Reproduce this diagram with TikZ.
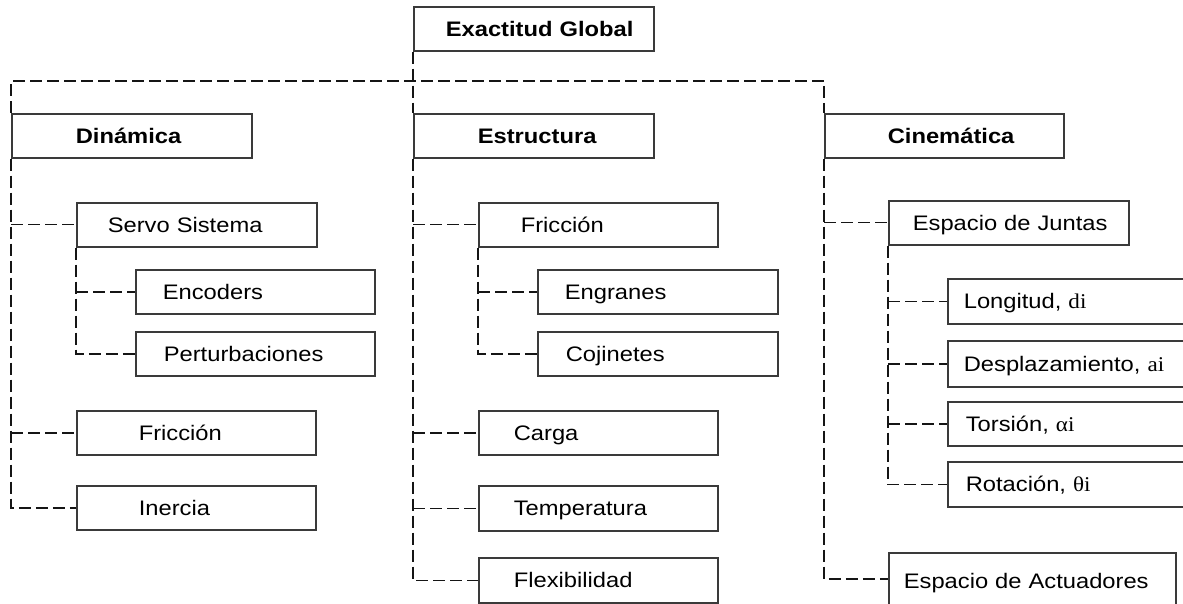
\documentclass[tikz,border=0pt]{standalone}
\usepackage{fontspec}
\setmainfont{Liberation Sans}[FakeStretch=1.13]
\newfontfamily\symfam{Liberation Serif}[FakeStretch=1.1]
\definecolor{boxline}{HTML}{3A3A3A}
\definecolor{linkgray}{HTML}{151515}
\tikzset{
  box/.style={draw=boxline, line width=1.6pt, anchor=north west,
    minimum height=44pt, inner xsep=0pt, text width=240pt,
    text height=18pt, text depth=3pt, align=left,
    font=\fontsize{21}{24}\selectfont},
  head/.style={box, font=\fontsize{21}{24}\selectfont\bfseries},
  pad/.style={execute at begin node={\noindent\hspace*{#1}}},
  link/.style={draw=linkgray, line width=1.4pt, dash pattern=on 12pt off 5pt},
}
\begin{document}
\begin{tikzpicture}[x=1pt, y=-1pt]
\useasboundingbox (0,0) rectangle (1183,604);
\clip (0,0) rectangle (1183,604);

% top level and the three branches
\node[head, pad=32pt] (glob) at (413,6) {Exactitud Global};
\node[head, pad=64pt] (dyn) at (11,113) {Dinámica};
\node[head, pad=64pt] (est) at (413,113) {Estructura};
\node[head, pad=63pt, text width=239pt] (cin) at (824,113) {Cinemática};
\coordinate (bar) at (413,81);

% Dinámica
\node[box, pad=31pt] (servo) at (76,202) {Servo Sistema};
\node[box, pad=27pt, text width=239pt] (enc) at (135,269) {Encoders};
\node[box, pad=28pt, text width=239pt] (pert) at (135,331) {Perturbaciones};
\node[box, pad=62pt, text width=239pt] (fricd) at (76,410) {Fricción};
\node[box, pad=62pt, text width=239pt] (iner) at (76,485) {Inercia};

% Estructura
\node[box, pad=42pt, text width=239pt] (frice) at (478,202) {Fricción};
\node[box, pad=27pt] (engr) at (537,269) {Engranes};
\node[box, pad=28pt] (coji) at (537,331) {Cojinetes};
\node[box, pad=35pt, text width=239pt] (carga) at (478,410) {Carga};
\node[box, pad=35pt, text width=239pt, minimum height=45pt] (temp) at (478,485) {Temperatura};
\node[box, pad=35pt, text width=239pt, minimum height=45pt] (flex) at (478,557) {Flexibilidad};

% Cinemática
\node[box, pad=24pt] (junt) at (888,200) {Espacio de Juntas};
\node[box, pad=16pt, minimum height=45pt] (long) at (947,278) {Longitud, {\symfam di}};
\node[box, pad=16pt, minimum height=46pt] (desp) at (947,340) {Desplazamiento, {\symfam ai}};
\node[box, pad=18pt] (tors) at (947,401) {Torsión, {\symfam αi}};
\node[box, pad=18pt, minimum height=45pt] (rota) at (947,461) {Rotación, {\symfam θi}};
\node[box, pad=15pt, text width=287pt, minimum height=60pt,
      text height=15pt, text depth=3pt] (actu) at (888,552) {Espacio de Actuadores};

% main bus
\draw[link] (dyn.north west) |- (bar) -| (cin.north west);
\draw[link] (glob.south west) -- (est.north west);

% Dinámica connectors
\draw[link] (dyn.south west) |- (iner.west);
\draw[link] (servo.west -| dyn.west) -- (servo.west);
\draw[link] (fricd.west -| dyn.west) -- (fricd.west);
\draw[link] (servo.south west) |- (pert.west);
\draw[link] (enc.west -| servo.west) -- (enc.west);

% Estructura connectors
\draw[link] (est.south west) |- (flex.west);
\draw[link] (frice.west -| est.west) -- (frice.west);
\draw[link] (carga.west -| est.west) -- (carga.west);
\draw[link] (temp.west -| est.west) -- (temp.west);
\draw[link] (frice.south west) |- (coji.west);
\draw[link] (engr.west -| frice.west) -- (engr.west);

% Cinemática connectors
\draw[link] (cin.south west) |- ([yshift=4pt]actu.west);
\draw[link] (junt.west -| cin.west) -- (junt.west);
\draw[link] (junt.south west) |- (rota.west);
\draw[link] (long.west -| junt.west) -- (long.west);
\draw[link] (desp.west -| junt.west) -- (desp.west);
\draw[link] (tors.west -| junt.west) -- (tors.west);
\end{tikzpicture}
\end{document}
